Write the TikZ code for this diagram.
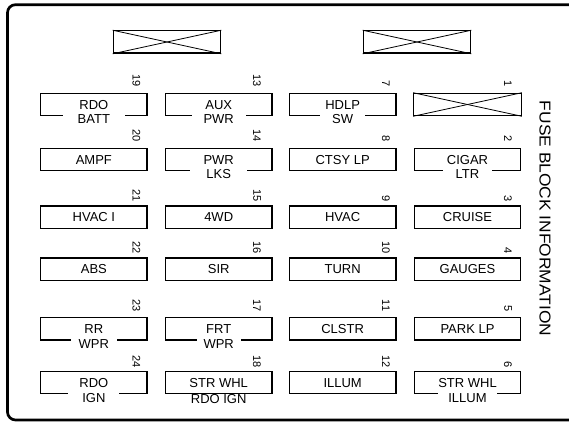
\documentclass[tikz,border=0pt]{standalone}
\usepackage{fontspec}
\setmainfont{Liberation Sans}
\newfontfamily\titlefont[FakeStretch=1.1]{Liberation Sans}
\tikzset{
  fuse/.style={draw, line width=1.3pt, minimum width=106.5pt, minimum height=22.3pt,
    inner sep=0pt, text height=9.3pt, text depth=0pt, font=\fontsize{13}{13}\selectfont},
  lowertxt/.style={fill=white, inner xsep=#1, inner ysep=1pt, text height=9.3pt,
    text depth=0pt, font=\fontsize{13}{13}\selectfont},
  lowertxt/.default=11pt,
  fusenum/.style={rotate=-90, anchor=east, inner sep=0pt, font=\fontsize{11}{11}\selectfont},
  xbox/.style={draw, line width=1.3pt, minimum width=107.5pt, minimum height=22.3pt, inner sep=0pt},
  xline/.style={line width=0.8pt},
  frame/.style={line width=2.7pt, rounded corners=8pt},
}
\begin{document}
\begin{tikzpicture}[x=1pt,y=-1pt]
\useasboundingbox (0,0) rectangle (569,425);
\clip (0,0) rectangle (569,425);
\draw[frame] (7.5,4.7) rectangle (577,420);

% top blank fuses
\node[xbox] (t1) at (167,42) {};
\node[xbox] (t2) at (417,42) {};
\foreach \n in {t1,t2}{
  \draw[xline] (\n.north west) -- (\n.south east);
  \draw[xline] (\n.south west) -- (\n.north east);
}

% column 1
\node[fuse] (f19) at (93.85,104.5) {RDO};
\node[fuse] (f20) at (93.85,159.5) {AMPF};
\node[fuse] (f21) at (93.85,217.15) {HVAC I};
\node[fuse] (f22) at (93.85,269.15) {ABS};
\node[fuse] (f23) at (93.85,328.85) {RR};
\node[fuse] (f24) at (93.85,382.5) {RDO};
% column 2
\node[fuse] (f13) at (218.7,104.5) {AUX};
\node[fuse] (f14) at (218.7,159.5) {PWR};
\node[fuse] (f15) at (218.7,217.15) {4WD};
\node[fuse] (f16) at (218.7,269.15) {SIR};
\node[fuse] (f17) at (218.7,328.85) {FRT};
\node[fuse] (f18) at (218.7,382.5) {STR WHL};
% column 3
\node[fuse] (f7) at (342.65,104.5) {HDLP};
\node[fuse] (f8) at (342.65,159.5) {CTSY LP};
\node[fuse] (f9) at (342.65,217.15) {HVAC};
\node[fuse] (f10) at (342.65,269.15) {TURN};
\node[fuse] (f11) at (342.65,328.85) {CLSTR};
\node[fuse] (f12) at (342.65,382.5) {ILLUM};
% column 4
\node[xbox] (f1) at (467.5,104.5) {};
\draw[xline] (f1.north west) -- (f1.south east);
\draw[xline] (f1.south west) -- (f1.north east);
\node[fuse] (f2) at (467.5,159.5) {CIGAR};
\node[fuse] (f3) at (467.5,217.15) {CRUISE};
\node[fuse] (f4) at (467.5,269.15) {GAUGES};
\node[fuse] (f5) at (467.5,328.85) {PARK LP};
\node[fuse] (f6) at (467.5,382.5) {STR WHL};

% second text lines
\node[lowertxt=15pt] (l19) at ([yshift=-3pt]f19.south) {BATT};
\node[lowertxt=14pt] (l24) at ([yshift=-4pt]f24.south) {IGN};
\node[lowertxt=8pt] (l23) at ([yshift=-3pt]f23.south) {WPR};
\node[lowertxt=12pt] (l13) at ([yshift=-3pt]f13.south) {PWR};
\node[lowertxt=16pt] (l14) at ([yshift=-3pt]f14.south) {LKS};
\node[lowertxt=7pt] (l17) at ([yshift=-3pt]f17.south) {WPR};
\node[lowertxt=6.5pt] (l18) at ([yshift=-5pt]f18.south) {RDO IGN};
\node[lowertxt=12pt] (l7) at ([yshift=-3pt]f7.south) {SW};
\node[lowertxt=13pt] (l2) at ([yshift=-3pt]f2.south) {LTR};
\node[lowertxt=10pt] (l6) at ([yshift=-4pt]f6.south) {ILLUM};

% fuse numbers
\foreach \n/\x/\y in {19/136.5/86.5, 20/136.5/142, 21/136.5/201.5, 22/136.5/254, 23/136.5/311.5, 24/136.5/367.5,
  13/257/86.5, 14/257/142, 15/257/201.5, 16/257/254, 17/257/311.5, 18/257/367.5,
  7/386/86.5, 8/386/142, 9/386/201.5, 10/386/254, 11/386/311.5, 12/386/367.5,
  1/508/86.5, 2/508/142, 3/508/201.5, 4/508/254, 5/508/311.5, 6/508/367.5}{
  \node[fusenum] (n\n) at (\x,\y) {\n};
}

\node[rotate=-90, inner sep=0pt, font=\titlefont\fontsize{15.8}{16}\selectfont] (title) at (545,218.5) {FUSE BLOCK INFORMATION};
\end{tikzpicture}
\end{document}
